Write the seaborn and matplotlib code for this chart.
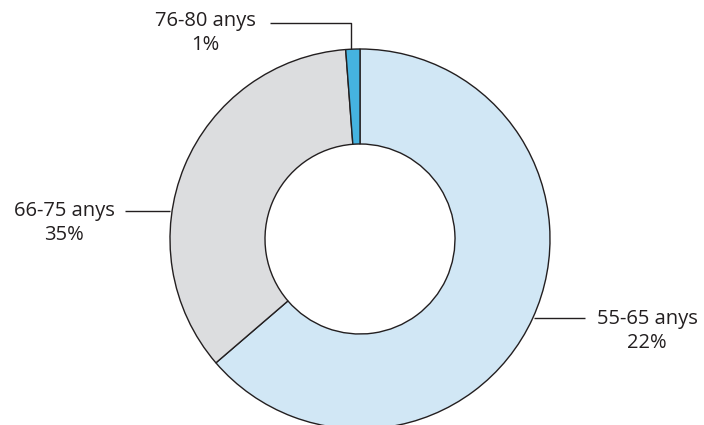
import numpy as np
import matplotlib
matplotlib.use("Agg")
import matplotlib.pyplot as plt
import seaborn as sns

sns.set_theme(style="white")
plt.rcParams['font.family'] = ['Open Sans', 'DejaVu Sans']
plt.rcParams['font.stretch'] = 'normal'

# data (slice shares) and the printed labels
groups = ["55-65 anys", "66-75 anys", "76-80 anys"]
shares = [63.7, 35.1, 1.2]
printed_pct = ["22%", "35%", "1%"]
colors = ["#d1e7f5", "#dcdddf", "#45b3e0"]

W, H = 704, 425
CX, CY, R = 360, 239, 190  # centre / radius in pixels


def px(x, y):
    # pixel -> data coords (radius 1 = R pixels)
    return (x - CX) / R, (CY - y) / R


fig = plt.figure(figsize=(W / 100, H / 100), dpi=100)
ax = fig.add_axes([0, 0, 1, 1])
ax.pie(shares, colors=colors, startangle=90, counterclock=False, radius=1,
       wedgeprops=dict(width=0.5, edgecolor="#231f20", linewidth=1.0))
ax.set_xlim(px(0, 0)[0], px(W, 0)[0])
ax.set_ylim(px(0, H)[1], px(0, 0)[1])
ax.set_aspect("equal")
ax.axis("off")

line_kw = dict(color="#231f20", linewidth=1.0, solid_capstyle="butt")
txt_kw = dict(fontsize=14.5, color="#231f20", ha="center", va="center",
              multialignment="center", linespacing=1.25,
              fontstretch="normal", fontweight="normal")

# 76-80 anys
p = [px(270, 22.5), px(351, 22.5), px(351, 49)]
ax.plot([q[0] for q in p], [q[1] for q in p], **line_kw)
ax.text(*px(205, 33), f"{groups[2]}\n{printed_pct[2]}", **txt_kw)

# 66-75 anys
p = [px(125, 211), px(170, 211)]
ax.plot([q[0] for q in p], [q[1] for q in p], **line_kw)
ax.text(*px(64, 223), f"{groups[1]}\n{printed_pct[1]}", **txt_kw)

# 55-65 anys
p = [px(534, 318), px(585, 318)]
ax.plot([q[0] for q in p], [q[1] for q in p], **line_kw)
ax.text(*px(647, 331), f"{groups[0]}\n{printed_pct[0]}", **txt_kw)

fig.savefig("out.png", dpi=100)
